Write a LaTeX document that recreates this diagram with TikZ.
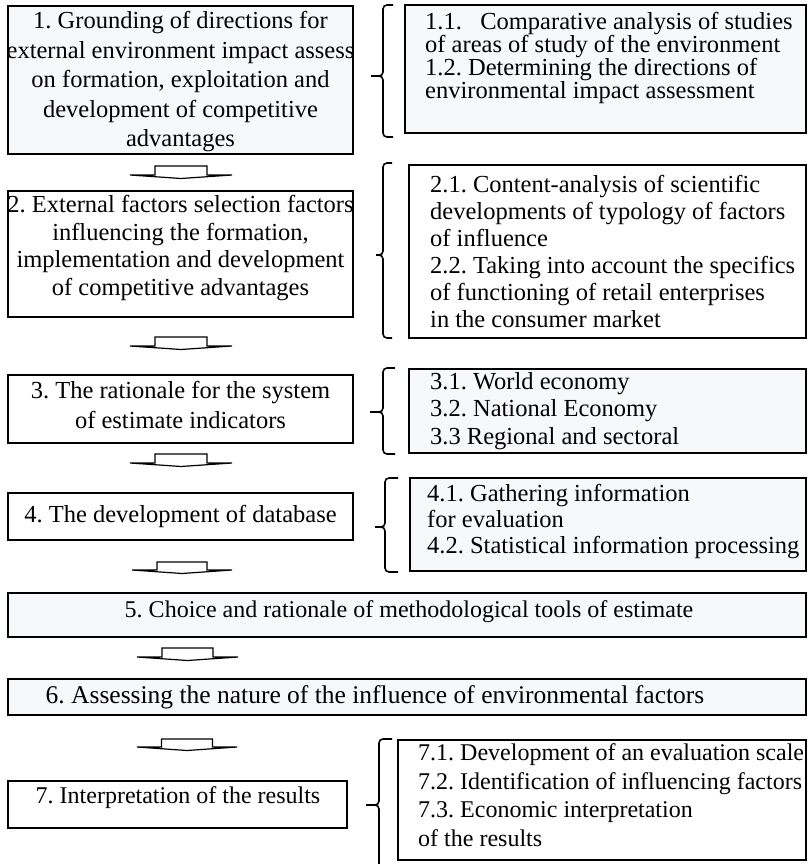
\documentclass[tikz,border=0pt]{standalone}
\usepackage{fontspec}
\setmainfont{Liberation Serif}
\usetikzlibrary{fit}
\frenchspacing
\definecolor{boxfill}{RGB}{247,248,250}
\tikzset{
  box/.style={draw=black, line width=1.3pt, inner sep=0pt, fill=white},
  shaded/.style={fill=boxfill},
  txt/.style={inner sep=0pt, font=\fontsize{24.5}{28}\selectfont},
  ctxt/.style={txt, align=center},
  ltxt/.style={txt, align=left, anchor=west},
  bracepath/.style={line width=1.6pt, rounded corners=4pt},
  blockarrow/.style={draw, line width=1.2pt, fill=white, line join=miter},
}
\newcommand{\mybrace}[6]{%
  \draw[bracepath] (#6,#2) -- (#1,#2) -- (#1,#4) -- (#5,#4);
  \draw[bracepath] (#5,#4) -- (#1,#4) -- (#1,#3) -- (#6,#3);
}
\newcommand{\blockdown}[6]{%
  \draw[blockarrow] ({#1-#5},#2) -- ({#1+#5},#2) -- ({#1+#5},#3) -- ({#1+#6},#3)
    -- (#1,#4) -- ({#1-#6},#3) -- ({#1-#5},#3) -- cycle;
}
\begin{document}
\begin{tikzpicture}[x=1pt,y=-1pt]
\useasboundingbox (0,0) rectangle (807,864);

% left boxes
\node[box, shaded, fit={(8,6) (353,154)}] (b1) {};
\node[box, fit={(8,191) (353,317)}] (b2) {};
\node[box, fit={(8,375) (353,443)}] (b3) {};
\node[box, fit={(8,493) (353,540)}] (b4) {};
\node[box, shaded, fit={(8,593) (806,637)}] (b5) {};
\node[box, shaded, fit={(8,679) (806,715)}] (b6) {};
\node[box, fit={(8,781) (347,828)}] (b7) {};

% right boxes
\node[box, shaded, fit={(405,5) (806,133)}] (r1) {};
\node[box, fit={(409,165) (806,338)}] (r2) {};
\node[box, shaded, fit={(409,369) (806,453)}] (r3) {};
\node[box, shaded, fit={(410,478) (806,571)}] (r4) {};
\node[box, fit={(398,740) (806,860)}] (r7) {};

% left texts
\node[ctxt, font=\fontsize{24.5}{29.5}\selectfont] (b1t) at (180.5,82)
  {1. Grounding of directions for\\external environment impact assess\\on formation, exploitation and\\development of competitive\\advantages};
\node[ctxt, font=\fontsize{24.5}{27.7}\selectfont] (b2t) at (180.5,248)
  {2. External factors selection factors\\influencing the formation,\\implementation and development\\of competitive advantages};
\node[ctxt, font=\fontsize{24.5}{30}\selectfont] (b3t) at (180.5,405)
  {3. The rationale for the system\\of estimate indicators};
\node[ctxt] (b4t) at (180.5,516) {4. The development of database};
\node[ctxt, font=\fontsize{24}{28}\selectfont] (b5t) at (409,612) {5. Choice and rationale of methodological tools of estimate};
\node[ctxt, font=\fontsize{25.5}{28}\selectfont] (b6t) at (375,697) {6. Assessing the nature of the influence of environmental factors};
\node[ctxt, font=\fontsize{24}{28}\selectfont] (b7t) at (178,798) {7. Interpretation of the results};

% right texts
\node[ltxt, font=\fontsize{24.5}{23.3}\selectfont] (r1t) at (425,58)
  {1.1.\ \ \ Comparative analysis of studies\\of areas of study of the environment\\1.2. Determining the directions of\\environmental impact assessment};
\node[ltxt, font=\fontsize{24.5}{27}\selectfont] (r2t) at (430,251)
  {2.1. Content-analysis of scientific\\developments of typology of factors\\of influence\\2.2. Taking into account the specifics\\of functioning of retail enterprises\\in the consumer market};
\node[ltxt, font=\fontsize{24.5}{27.5}\selectfont] (r3t) at (430,411)
  {3.1. World economy\\3.2. National Economy\\3.3 Regional and sectoral};
\node[ltxt, font=\fontsize{24.5}{26}\selectfont] (r4t) at (427,522)
  {4.1. Gathering information\\for evaluation\\4.2. Statistical information processing};
\node[ltxt, font=\fontsize{24}{28.5}\selectfont] (r7t) at (418,795)
  {7.1. Development of an evaluation scale\\7.2. Identification of influencing factors\\7.3. Economic interpretation\\of the results};

% braces
\mybrace{383}{5}{137}{76}{371}{393}
\mybrace{383}{163}{338}{255}{376}{392}
\mybrace{383}{368}{454}{412}{370}{395}
\mybrace{385}{478}{572}{527}{375}{398}
\draw[bracepath] (392,739) -- (379,739) -- (379,805) -- (366,805);
\draw[bracepath] (366,805) -- (379,805) -- (379,864);

% block arrows
\blockdown{181}{166}{175}{178.5}{26}{51}
\blockdown{181}{337}{346}{349.5}{26}{51}
\blockdown{181}{454}{463}{466.5}{26}{51}
\blockdown{182}{562}{570}{573.5}{25}{50}
\blockdown{187.5}{648}{657}{660.5}{25.5}{50.5}
\blockdown{187}{739}{747}{750.5}{25.5}{50}
\end{tikzpicture}
\end{document}
